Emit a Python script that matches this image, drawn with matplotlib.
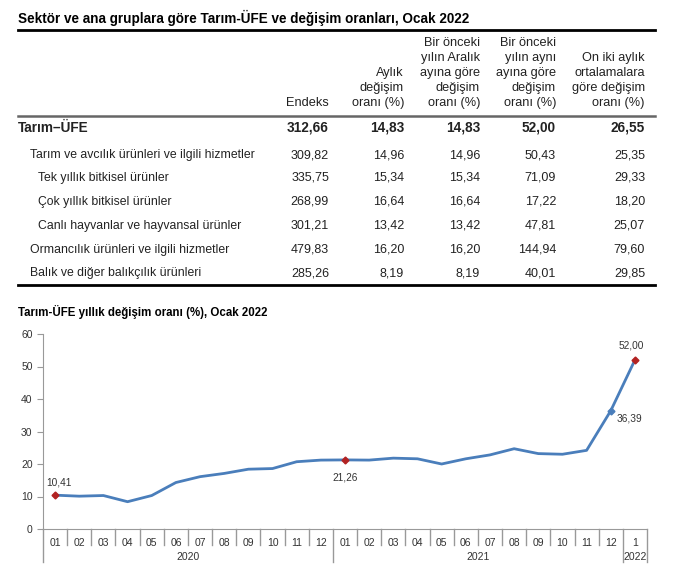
import matplotlib
matplotlib.use("Agg")
import matplotlib.pyplot as plt
import matplotlib.transforms as mtransforms

# ---- table data ----
row_labels = ["Tarım–ÜFE",
              "Tarım ve avcılık ürünleri ve ilgili hizmetler",
              "Tek yıllık bitkisel ürünler",
              "Çok yıllık bitkisel ürünler",
              "Canlı hayvanlar ve hayvansal ürünler",
              "Ormancılık ürünleri ve ilgili hizmetler",
              "Balık ve diğer balıkçılık ürünleri"]
endeks = ["312,66", "309,82", "335,75", "268,99", "301,21", "479,83", "285,26"]
aylik = ["14,83", "14,96", "15,34", "16,64", "13,42", "16,20", "8,19"]
aralik = ["14,83", "14,96", "15,34", "16,64", "13,42", "16,20", "8,19"]
yillik = ["52,00", "50,43", "71,09", "17,22", "47,81", "144,94", "40,01"]
ortalama = ["26,55", "25,35", "29,33", "18,20", "25,07", "79,60", "29,85"]
col_headers = [["Endeks"],
               ["Aylık", "değişim", "oranı (%)"],
               ["Bir önceki", "yılın Aralık", "ayına göre", "değişim", "oranı (%)"],
               ["Bir önceki", "yılın aynı", "ayına göre", "değişim", "oranı (%)"],
               ["On iki aylık", "ortalamalara", "göre değişim", "oranı (%)"]]

# ---- chart data ----
months = ["01", "02", "03", "04", "05", "06", "07", "08", "09", "10", "11", "12",
          "01", "02", "03", "04", "05", "06", "07", "08", "09", "10", "11", "12", "1"]
years = ["2020", "2021", "2022"]
year_counts = [12, 12, 1]
rates = [10.41, 10.1, 10.3, 8.4, 10.3, 14.3, 16.1, 17.1, 18.4, 18.6, 20.7, 21.2,
         21.26, 21.2, 21.8, 21.6, 20.0, 21.6, 22.8, 24.7, 23.2, 23.0, 24.2, 36.39, 52.00]
labelled = {0: "10,41", 12: "21,26", 23: "36,39", 24: "52,00"}

W, H = 685, 574
fig = plt.figure(figsize=(W / 100, H / 100), dpi=100)
plt.rcParams['font.family'] = ['Liberation Sans Narrow', 'Liberation Sans', 'DejaVu Sans']
txt_col = "#222222"


def fx(x):
    return x / W


def fy(y):
    return 1 - y / H


# table title and rules
fig.text(fx(18), fy(18), "Sektör ve ana gruplara göre Tarım-ÜFE ve değişim oranları, Ocak 2022",
         fontsize=9.75, fontweight="bold", va="center", ha="left")
fig.add_artist(plt.Line2D([fx(18), fx(655)], [fy(30), fy(30)], color="black", lw=2))
fig.add_artist(plt.Line2D([fx(18), fx(655)], [fy(116), fy(116)], color="#666666", lw=1.8))
fig.add_artist(plt.Line2D([fx(18), fx(655)], [fy(285), fy(285)], color="black", lw=2))

col_x = [329, 404, 480, 556, 645]
for cx, lines in zip(col_x, col_headers):
    n = len(lines)
    for i, line in enumerate(lines):
        y = 103 - (n - 1 - i) * 15
        fig.text(fx(cx), fy(y), line, fontsize=9.2, ha="right", va="center", color=txt_col)

row_y = [128, 155, 178, 202, 226, 250, 273]
indent = [18, 30, 38, 38, 38, 30, 30]
columns = [endeks, aylik, aralik, yillik, ortalama]
for i, lab in enumerate(row_labels):
    bold = "bold" if i == 0 else "normal"
    size = 9.8 if i == 0 else 8.8
    fig.text(fx(indent[i]), fy(row_y[i]), lab, fontsize=size, fontweight=bold,
             ha="left", va="center", color=txt_col)
    for cx, col in zip(col_x, columns):
        fig.text(fx(cx), fy(row_y[i]), col[i], fontsize=size if i == 0 else 9,
                 fontweight=bold, ha="right", va="center", color=txt_col)

# ---- line chart ----
fig.text(fx(18), fy(312), "Tarım-ÜFE yıllık değişim oranı (%), Ocak 2022",
         fontsize=8.3, fontweight="bold", ha="left", va="center", family=["Liberation Sans"])

left, right, top, bottom = 43, 647, 334, 529
ax = fig.add_axes([fx(left), fy(bottom), fx(right - left), (bottom - top) / H])
xs = list(range(len(rates)))
ax.plot(xs, rates, color="#4A7EBB", lw=2)
for i in labelled:
    col = "#4A7EBB" if i == 23 else "#B22222"
    ax.plot(i, rates[i], marker="D", ms=3.5, color=col, zorder=3)

lab_fmt = dict(textcoords="offset points", fontsize=7.3, family=["Liberation Sans"], color="#333333")
ax.annotate(labelled[0], (0, rates[0]), xytext=(3, 7), ha="center", **lab_fmt)
ax.annotate(labelled[12], (12, rates[12]), xytext=(0, -15), ha="center", **lab_fmt)
ax.annotate(labelled[23], (23, rates[23]), xytext=(4, -8), ha="left", **lab_fmt)
ax.annotate(labelled[24], (24, rates[24]), xytext=(-3, 8), ha="center", **lab_fmt)

ax.set_xlim(-0.5, len(rates) - 0.5)
ax.set_ylim(0, 60)
ax.set_yticks(range(0, 61, 10))
ax.tick_params(axis="y", labelsize=7.5, colors="#333333", length=4, color="#999999")
for lab in ax.get_yticklabels():
    lab.set_family("Liberation Sans")
ax.set_xticks([])
for s in ["top", "right"]:
    ax.spines[s].set_visible(False)
ax.spines["left"].set_color("#999999")
ax.spines["bottom"].set_color("#999999")

trans = mtransforms.blended_transform_factory(ax.transData, ax.transAxes)
px = 1 / (bottom - top)  # one pixel in axes units
for i, m in enumerate(months):
    ax.text(i, -14 * px, m, transform=trans, ha="center", va="center", fontsize=7.5,
            family=["Liberation Sans"], color="#333333", clip_on=False)
# separators
bounds = [0]
for c in year_counts:
    bounds.append(bounds[-1] + c)
for b in range(len(rates) + 1):
    x = b - 0.5
    length = 33 if b in bounds else 16
    ax.plot([x, x], [0, -length * px], transform=trans, color="#999999", lw=1, clip_on=False)
for yr, a, b in zip(years, bounds[:-1], bounds[1:]):
    ax.text((a + b - 1) / 2, -28 * px, yr, transform=trans, ha="center", va="center",
            fontsize=7.5, family=["Liberation Sans"], color="#333333", clip_on=False)

plt.savefig("out.png", dpi=100)
